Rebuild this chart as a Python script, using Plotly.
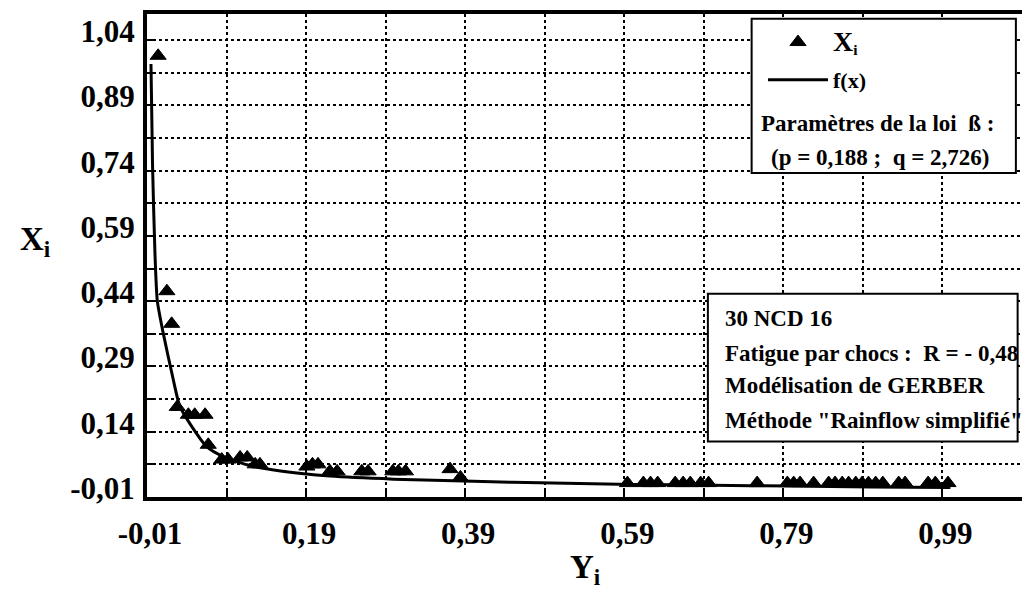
import plotly.graph_objects as go

# ---- data ----
yi_vals = [0.004, 0.015, 0.021, 0.028, 0.042, 0.050, 0.063, 0.067, 0.084, 0.092,
           0.107, 0.116, 0.126, 0.132, 0.191, 0.198, 0.205, 0.220, 0.229, 0.260,
           0.268, 0.299, 0.306, 0.315, 0.371, 0.384,
           0.594, 0.614, 0.623, 0.632, 0.654, 0.664, 0.673, 0.686, 0.696, 0.757,
           0.795, 0.803, 0.811, 0.828, 0.847, 0.855, 0.864, 0.872, 0.881, 0.889,
           0.897, 0.906, 0.915, 0.935, 0.943, 0.972, 0.981, 0.997]
xi_vals = [1.004, 0.463, 0.388, 0.197, 0.179, 0.179, 0.179, 0.110, 0.076, 0.076,
           0.081, 0.081, 0.065, 0.065, 0.060, 0.065, 0.065, 0.049, 0.049, 0.049,
           0.049, 0.049, 0.049, 0.049, 0.054, 0.035,
           0.022, 0.022, 0.022, 0.022, 0.022, 0.022, 0.022, 0.022, 0.022, 0.022,
           0.022, 0.022, 0.022, 0.022, 0.022, 0.022, 0.022, 0.022, 0.022, 0.022,
           0.022, 0.022, 0.022, 0.022, 0.022, 0.022, 0.022, 0.022]

fx_x = [-0.005, -0.003, 0.0, 0.003, 0.010, 0.023, 0.031, 0.047, 0.065, 0.086,
        0.12, 0.16, 0.22, 0.30, 0.40, 0.50, 0.60, 0.70, 0.80, 0.90, 1.00]
fx_y = [0.985, 0.75, 0.55, 0.44, 0.37, 0.26, 0.20, 0.15, 0.106, 0.083,
        0.062, 0.049, 0.038, 0.031, 0.026, 0.022, 0.019, 0.017, 0.015, 0.013, 0.012]

x_tickvals = [-0.01, 0.19, 0.39, 0.59, 0.79, 0.99]
x_ticktext = ["-0,01", "0,19", "0,39", "0,59", "0,79", "0,99"]
x_minorvals = [0.09, 0.29, 0.49, 0.69, 0.89, 1.09]
y_tickvals = [-0.01, 0.14, 0.29, 0.44, 0.59, 0.74, 0.89, 1.04]
y_ticktext = ["-0,01", "0,14", "0,29", "0,44", "0,59", "0,74", "0,89", "1,04"]
y_minorvals = [0.065, 0.215, 0.365, 0.515, 0.665, 0.815, 0.965]

FONT = "Liberation Serif, Times New Roman, Tinos, DejaVu Serif, serif"


def f(size):
    return dict(family=FONT, size=size, color="black", weight="bold")


fig = go.Figure()
fig.add_trace(go.Scatter(
    x=yi_vals, y=xi_vals, mode="markers",
    name='<span style="font-size:28px">X</span><sub>i</sub>',
    legendgroup="a",
    marker=dict(symbol="triangle-up", size=14, color="black",
                line=dict(color="black", width=1))))
fig.add_trace(go.Scatter(
    x=fx_x, y=fx_y, mode="lines", name="f(x)", legendgroup="b",
    line=dict(color="black", width=3, shape="spline", smoothing=0.6)))

axis_common = dict(
    showline=True, linecolor="black", linewidth=4,
    showgrid=True, gridcolor="black", gridwidth=1.5, griddash="dot",
    zeroline=False, ticks="inside", ticklen=7, tickwidth=2, tickcolor="black",
    tickmode="array", tickfont=f(31),
)
minor_common = dict(tickmode="array", showgrid=True, gridcolor="black",
                    gridwidth=1.5, griddash="dot", ticks="inside", ticklen=7,
                    tickwidth=2, tickcolor="black")

fig.update_xaxes(**axis_common, range=[-0.01, 1.09], tickvals=x_tickvals,
                 ticktext=x_ticktext, mirror=True, ticklabelstandoff=6,
                 ticklabelshift=3, minor=dict(**minor_common, tickvals=x_minorvals))
fig.update_yaxes(**axis_common, range=[-0.01, 1.10], tickvals=y_tickvals,
                 ticktext=y_ticktext, ticklabelshift=-9, ticklabelstandoff=2,
                 minor=dict(**minor_common, tickvals=y_minorvals))

shape_common = dict(type="rect", xref="paper", yref="paper", layer="above",
                    line=dict(color="black", width=2), fillcolor="white")


def ann(text, x, y, size, xanchor="center"):
    return dict(text=text, x=x, y=y, xref="paper", yref="paper", showarrow=False,
                xanchor=xanchor, yanchor="middle", font=f(size))


annotations = [
    ann("X<sub>i</sub>", -0.128, 0.528, 33),
    ann("Y<sub>i</sub>", 0.5006, -0.150, 33),
    ann("Paramètres de la loi  ß :", 0.835, 0.774, 23),
    ann("(p = 0,188 ;  q = 2,726)", 0.838, 0.702, 23),
]
box2_lines = ["30 NCD 16", "Fatigue par chocs :  R = - 0,48",
              "Modélisation de GERBER", "Méthode \"Rainflow simplifié\""]
box2_y = [0.370, 0.298, 0.230, 0.158]
for t, yy in zip(box2_lines, box2_y):
    annotations.append(ann(t, 0.658, yy, 23, xanchor="left"))

# page body has an 8px margin: size the figure so it fits the 1030x593 window
fig.update_layout(
    width=1022, height=585,
    margin=dict(l=139, r=8, t=2, b=96),
    paper_bgcolor="white", plot_bgcolor="white",
    font=f(20),
    shapes=[
        dict(**shape_common, x0=0.691, x1=0.993, y0=0.671, y1=0.990),
        dict(**shape_common, x0=0.641, x1=0.995, y0=0.115, y1=0.421),
    ],
    annotations=annotations,
    legend=dict(x=0.704, y=0.985, xanchor="left", yanchor="top",
                bgcolor="rgba(0,0,0,0)", borderwidth=0, itemwidth=60,
                tracegroupgap=6, font=f(22)),
    showlegend=True,
)

fig.write_html("out.html")
